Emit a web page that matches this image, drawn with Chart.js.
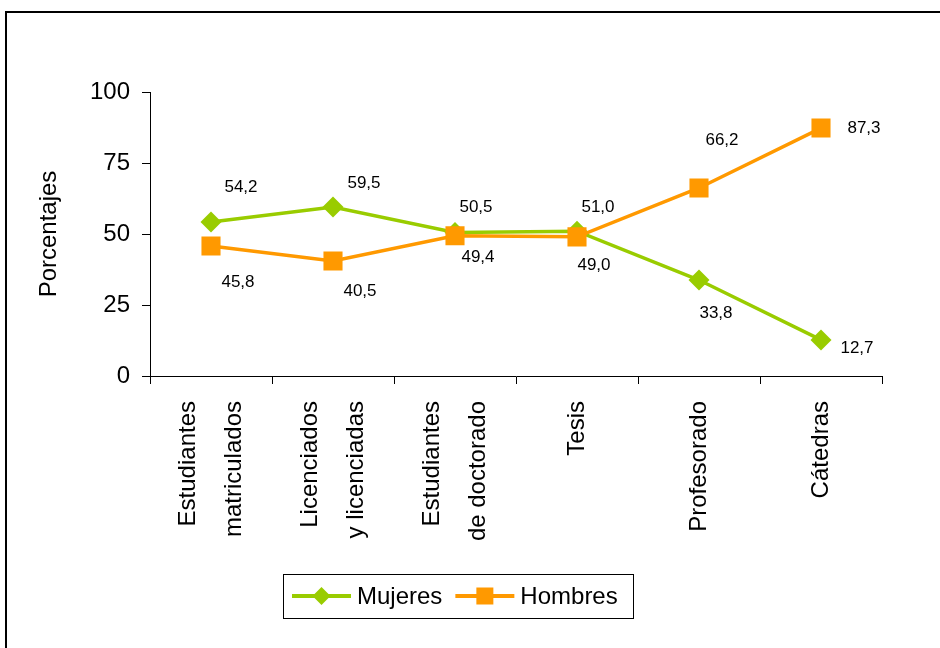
<!DOCTYPE html>
<html>
<head>
<meta charset="utf-8">
<script src="https://cdn.jsdelivr.net/npm/chart.js@4.4.0/dist/chart.umd.min.js"></script>
<style>
  html, body { margin: 0; padding: 0; background: #fff; overflow: hidden; }
  #frame { position: absolute; left: 5px; top: 11px; width: 980px; height: 700px; border: 2px solid #000; box-sizing: border-box; }
  #wrap { position: absolute; left: 0; top: 0; width: 940px; height: 648px; }
</style>
</head>
<body>
<div id="frame"></div>
<div id="wrap"><canvas id="chart" width="940" height="648"></canvas></div>
<script>
const categories = [
  ["Estudiantes", "matriculados"],
  ["Licenciados", "y licenciadas"],
  ["Estudiantes", "de doctorado"],
  ["Tesis"],
  ["Profesorado"],
  ["Cátedras"]
];
const mujeres = [54.2, 59.5, 50.5, 51.0, 33.8, 12.7];
const hombres = [45.8, 40.5, 49.4, 49.0, 66.2, 87.3];
const yMin = 0, yMax = 100, yStep = 25;

// posicion de cada etiqueta de valor respecto a su punto (px)
const offsetsMujeres = [[30, -35], [31, -24], [21, -25], [21, -24], [17, 33], [36, 8]];
const offsetsHombres = [[27, 36], [27, 30], [23, 22], [17, 28], [23, -48], [43, 0]];

const FONT = "'Liberation Sans', Arial, sans-serif";

// etiquetas de valor junto a cada punto
const dataLabels = {
  id: "dataLabels",
  afterDatasetsDraw(chart) {
    const ctx = chart.ctx;
    ctx.save();
    ctx.font = "17px " + FONT;
    ctx.fillStyle = "#000";
    ctx.textAlign = "center";
    ctx.textBaseline = "middle";
    chart.data.datasets.forEach((ds, di) => {
      chart.getDatasetMeta(di).data.forEach((pt, i) => {
        const off = ds.labelOffsets[i];
        ctx.fillText(ds.data[i].toFixed(1).replace(".", ","), pt.x + off[0], pt.y + off[1]);
      });
    });
    ctx.restore();
  }
};

// etiquetas del eje x, giradas y centradas en su categoria
const xLabels = {
  id: "xLabels",
  afterDraw(chart) {
    const scale = chart.scales.x;
    const ctx = chart.ctx;
    const lh = 46;
    ctx.save();
    ctx.font = "24px " + FONT;
    ctx.fillStyle = "#000";
    ctx.textAlign = "right";
    ctx.textBaseline = "middle";
    categories.forEach((lines, i) => {
      const x = scale.getPixelForTick(i);
      lines.forEach((txt, j) => {
        ctx.save();
        ctx.translate(x + (j - (lines.length - 1) / 2) * lh, scale.top + 25);
        ctx.rotate(-Math.PI / 2);
        ctx.fillText(txt, 0, 0);
        ctx.restore();
      });
    });
    ctx.restore();
  }
};

// leyenda con linea y marcador, dentro de un recuadro
const legendBox = {
  id: "legendBox",
  afterDraw(chart) {
    const ctx = chart.ctx;
    const left = 283, top = 574, w = 350, h = 44, cy = top + h / 2;
    ctx.save();
    ctx.strokeStyle = "#000";
    ctx.lineWidth = 1;
    ctx.strokeRect(left + 0.5, top + 0.5, w, h);
    ctx.font = "24px " + FONT;
    ctx.textBaseline = "middle";
    let x = left + 9;
    chart.data.datasets.forEach(ds => {
      ctx.strokeStyle = ds.borderColor;
      ctx.fillStyle = ds.borderColor;
      ctx.lineWidth = 4;
      ctx.beginPath();
      ctx.moveTo(x, cy);
      ctx.lineTo(x + 59, cy);
      ctx.stroke();
      const mx = x + 29.5;
      ctx.beginPath();
      if (ds.pointStyle === "rectRot") {
        ctx.moveTo(mx, cy - 9);
        ctx.lineTo(mx + 9, cy);
        ctx.lineTo(mx, cy + 9);
        ctx.lineTo(mx - 9, cy);
      } else {
        ctx.rect(mx - 8.5, cy - 8.5, 17, 17);
      }
      ctx.closePath();
      ctx.fill();
      ctx.fillStyle = "#000";
      ctx.fillText(ds.label, x + 65, cy + 1);
      x += 65 + ctx.measureText(ds.label).width + 13;
    });
    ctx.restore();
  }
};

new Chart(document.getElementById("chart"), {
  type: "line",
  data: {
    labels: categories,
    datasets: [
      {
        label: "Mujeres",
        data: mujeres,
        borderColor: "#99CC00",
        backgroundColor: "#99CC00",
        borderWidth: 3.5,
        pointStyle: "rectRot",
        pointRadius: 10.5,
        pointHoverRadius: 10.5,
        pointBorderWidth: 0,
        tension: 0,
        order: 2,
        labelOffsets: offsetsMujeres
      },
      {
        label: "Hombres",
        data: hombres,
        borderColor: "#FF9900",
        backgroundColor: "#FF9900",
        borderWidth: 3.5,
        pointStyle: "rect",
        pointRadius: 13.5,
        pointHoverRadius: 13.5,
        pointBorderWidth: 0,
        tension: 0,
        order: 1,
        labelOffsets: offsetsHombres
      }
    ]
  },
  options: {
    responsive: false,
    devicePixelRatio: 1,
    animation: false,
    events: [],
    layout: { padding: { left: 10, right: 58, top: 92, bottom: 0 } },
    plugins: { legend: { display: false }, tooltip: { enabled: false } },
    scales: {
      x: {
        offset: true,
        grid: { offset: true, drawOnChartArea: false, tickLength: 8, color: "#000" },
        border: { color: "#000", width: 1 },
        ticks: { display: false },
        afterFit: s => { s.height = 272; }
      },
      y: {
        min: yMin,
        max: yMax,
        grid: { drawOnChartArea: false, tickLength: 8, color: "#000" },
        border: { color: "#000", width: 1 },
        ticks: { stepSize: yStep, padding: 12, color: "#000", font: { family: FONT, size: 24 } },
        title: { display: true, text: "Porcentajes", color: "#000", padding: { top: 25, bottom: 0 }, font: { family: FONT, size: 24 } },
        afterFit: s => { s.width = 140; }
      }
    }
  },
  plugins: [dataLabels, xLabels, legendBox]
});
</script>
</body>
</html>
